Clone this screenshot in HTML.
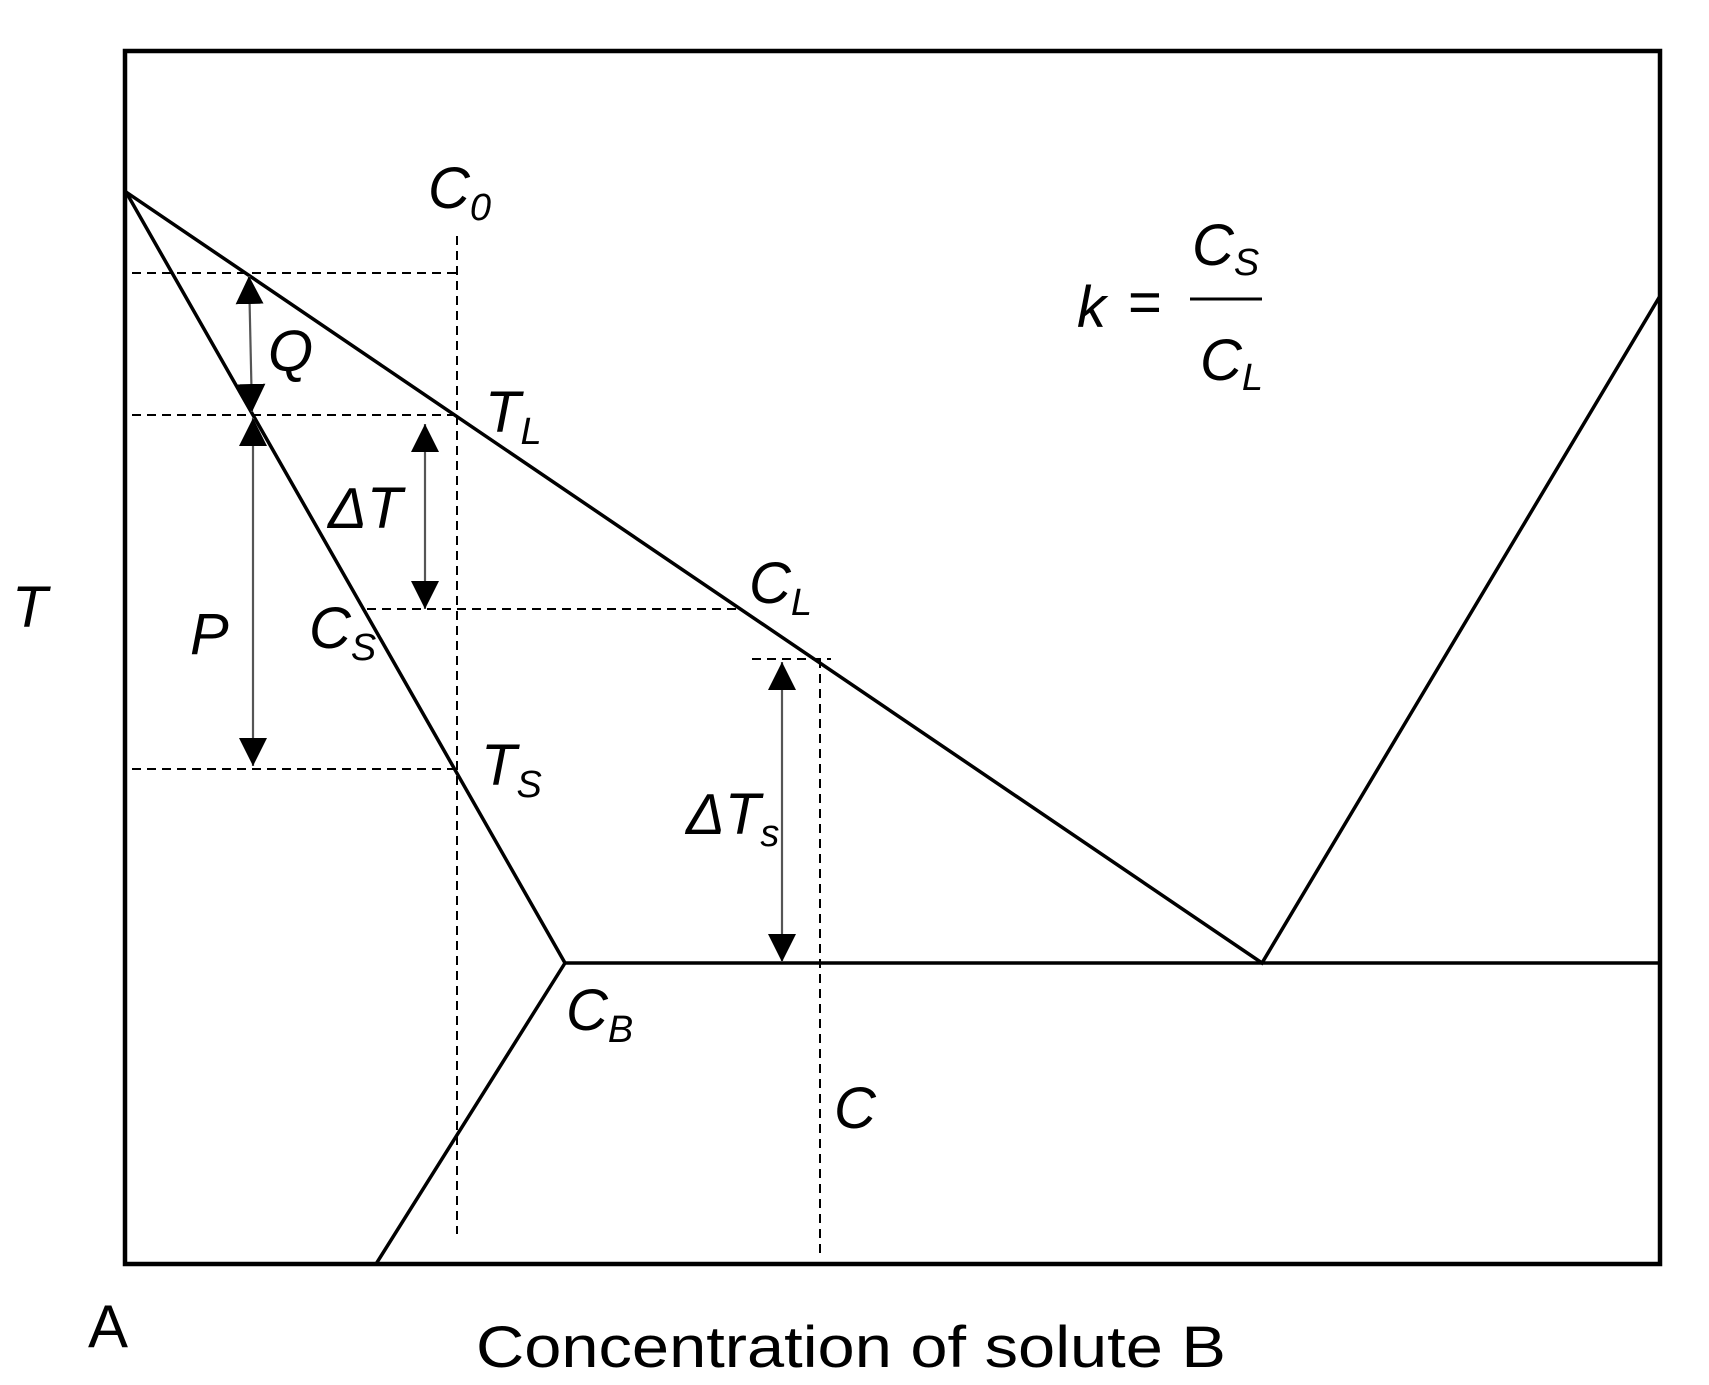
<!DOCTYPE html>
<html><head><meta charset="utf-8"><style>
html,body{margin:0;padding:0;background:#fff;}
svg{display:block;}
text{font-family:"Liberation Sans",sans-serif;fill:#000;}
.i{font-style:italic;font-size:58px;}
.s{font-size:38px;}
</style></head><body>
<svg width="1709" height="1385" viewBox="0 0 1709 1385" xmlns="http://www.w3.org/2000/svg">
<defs>
<marker id="ah" viewBox="0 0 10 10" refX="10" refY="5" markerWidth="28" markerHeight="28" markerUnits="userSpaceOnUse" orient="auto-start-reverse">
<path d="M0,0 L10,5 L0,10 z" fill="#000"/></marker>
</defs>
<rect x="125" y="51" width="1535" height="1213" fill="none" stroke="#000" stroke-width="4.5"/>
<g stroke="#000" stroke-width="3.5" fill="none">
<polyline points="126,192 1262,963 1660,296"/>
<polyline points="126,192 565,963 376,1264"/>
<line x1="565" y1="963" x2="1660" y2="963"/>
</g>
<g stroke="#000" stroke-width="2" stroke-dasharray="9,6" fill="none">
<line x1="132" y1="273" x2="457" y2="273"/>
<line x1="457" y1="236" x2="457" y2="1234"/>
<line x1="132" y1="415" x2="457" y2="415"/>
<line x1="367" y1="609" x2="740" y2="609"/>
<line x1="752" y1="659" x2="831" y2="659"/>
<line x1="820" y1="659" x2="820" y2="1255"/>
<line x1="132" y1="769" x2="456" y2="769"/>
</g>
<g stroke="#555" stroke-width="2.2">
<line x1="249" y1="276" x2="252" y2="412" marker-start="url(#ah)" marker-end="url(#ah)"/>
<line x1="253" y1="418" x2="253" y2="766" marker-start="url(#ah)" marker-end="url(#ah)"/>
<line x1="425" y1="424" x2="425" y2="609" marker-start="url(#ah)" marker-end="url(#ah)"/>
<line x1="782" y1="662" x2="782" y2="962" marker-start="url(#ah)" marker-end="url(#ah)"/>
</g>
<text class="i" x="428" y="208">C<tspan class="s" dy="12">0</tspan></text>
<text class="i" x="268" y="371">Q</text>
<text class="i" x="485" y="432">T<tspan class="s" dy="12">L</tspan></text>
<text class="i" x="328" y="528">ΔT</text>
<text class="i" x="749" y="603">C<tspan class="s" dy="12">L</tspan></text>
<text class="i" x="309" y="648">C<tspan class="s" dy="12">S</tspan></text>
<text class="i" x="12" y="627">T</text>
<text class="i" x="190" y="654">P</text>
<text class="i" x="481" y="785">T<tspan class="s" dy="12">S</tspan></text>
<text class="i" x="686" y="834">ΔT<tspan class="s" dy="12">s</tspan></text>
<text class="i" x="566" y="1030">C<tspan class="s" dy="12">B</tspan></text>
<text class="i" x="834" y="1128">C</text>
<text class="i" x="1077" y="327">k</text>
<text x="1128" y="322" style="font-size:58px">=</text>
<line x1="1190" y1="299" x2="1262" y2="299" stroke="#000" stroke-width="3"/>
<text class="i" x="1192" y="265">C<tspan class="s" dy="10">S</tspan></text>
<text class="i" x="1200" y="380">C<tspan class="s" dy="10">L</tspan></text>
<text x="88" y="1347" style="font-size:60px">A</text>
<text x="476" y="1367" style="font-size:58px" textLength="750" lengthAdjust="spacingAndGlyphs">Concentration of solute B</text>
</svg>
</body></html>
